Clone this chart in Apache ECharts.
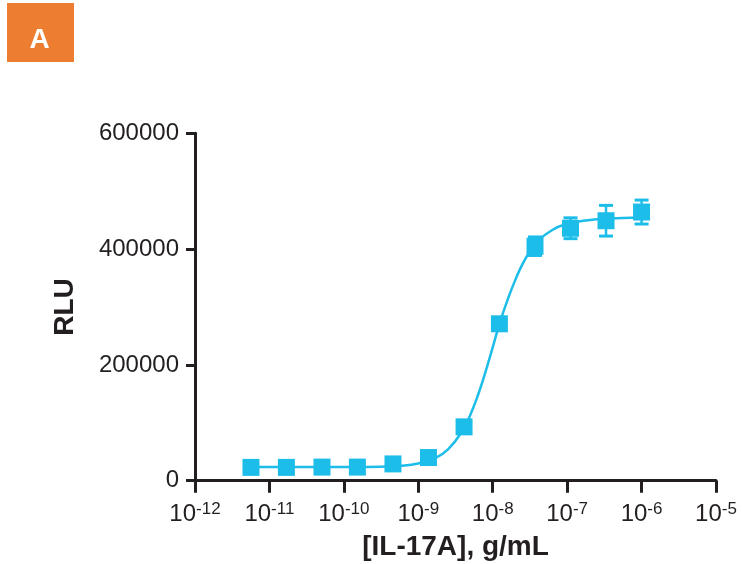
<!DOCTYPE html>
<html>
<head>
<meta charset="utf-8">
<script src="https://cdn.jsdelivr.net/npm/echarts@6/dist/echarts.min.js"></script>
<style>
html,body{margin:0;padding:0;background:#fff;}
#chart{width:742px;height:564px;}
</style>
</head>
<body>
<div id="chart"></div>
<script>
// concentrations (g/mL), measured RLU and error (SD)
const conc = [5.65e-12, 1.69e-11, 5.08e-11, 1.52e-10, 4.57e-10, 1.37e-9, 4.12e-9, 1.23e-8, 3.70e-8, 1.11e-7, 3.33e-7, 1.0e-6];
const rlu = [23000, 23000, 23500, 23500, 29000, 40000, 93000, 271000, 405000, 436000, 449000, 464000];
const rluErr = [1500, 1500, 1500, 1500, 2000, 2500, 3000, 4000, 16000, 18000, 26500, 20700];
// fitted curve
const curveConc = [5.65e-12, 3.16e-11, 1e-10, 3.16e-10, 5.62e-10, 1e-9, 1.58e-9, 2.51e-9, 3.98e-9, 5.01e-9, 6.31e-9, 7.94e-9, 1e-8, 1.26e-8, 1.58e-8, 2e-8, 2.51e-8, 3.16e-8, 3.98e-8, 6.31e-8, 1e-7, 1.78e-7, 3.16e-7, 1e-6];
const curveRlu = [23500, 23500, 23600, 24300, 25700, 29700, 37400, 54200, 87900, 114000, 147200, 186700, 230400, 274700, 312000, 346000, 374000, 396000, 413000, 433000, 443500, 449500, 452500, 454500];
const xTickExponents = [-12, -11, -10, -9, -8, -7, -6, -5];
const yTicks = [0, 200000, 400000, 600000];

const BLUE = '#1DBDE9';
const INK = '#231F20';
const FONT = '"Liberation Sans", Arial, sans-serif';

const chart = echarts.init(document.getElementById('chart'), null, {renderer: 'canvas'});

const option = {
  backgroundColor: '#fff',
  animation: false,
  graphic: [
    {type: 'rect', x: 7, y: 3, shape: {x: 0, y: 0, width: 67, height: 59}, style: {fill: '#ED7D31'}, z: 10},
    {type: 'text', x: 39.5, y: 40, style: {text: 'A', fill: '#ffffff', font: 'bold 28px ' + FONT, align: 'center', verticalAlign: 'middle'}, z: 11}
  ],
  grid: {left: 195, right: 26, top: 133.3, bottom: 83.3, containLabel: false, outerBoundsMode: 'none'},
  xAxis: {
    type: 'log',
    logBase: 10,
    min: Math.pow(10, xTickExponents[0]),
    max: Math.pow(10, xTickExponents[xTickExponents.length - 1]),
    splitNumber: 7,
    name: '[IL-17A], g/mL',
    nameLocation: 'middle',
    nameGap: 50,
    nameTextStyle: {fontFamily: FONT, fontWeight: 'bold', fontSize: 28, color: INK},
    axisLine: {show: true, onZero: false, lineStyle: {color: INK, width: 3}},
    axisTick: {show: true, length: 12, lineStyle: {color: INK, width: 3}},
    minorTick: {show: false},
    splitLine: {show: false},
    axisLabel: {
      margin: 21,
      formatter: function (v) {
        const e = Math.round(Math.log10(v));
        return '{b|10}{s|' + e + '}';
      },
      rich: {
        b: {fontFamily: FONT, fontSize: 24, lineHeight: 26, color: INK},
        s: {fontFamily: FONT, fontSize: 17, lineHeight: 26, color: INK, padding: [0, 0, 11, 0]}
      }
    }
  },
  yAxis: {
    type: 'value',
    min: yTicks[0],
    max: yTicks[yTicks.length - 1],
    interval: yTicks[1] - yTicks[0],
    name: 'RLU',
    nameLocation: 'middle',
    nameGap: 116,
    nameTextStyle: {fontFamily: FONT, fontWeight: 'bold', fontSize: 28, color: INK},
    axisLine: {show: true, lineStyle: {color: INK, width: 3}},
    axisTick: {show: true, length: 9, lineStyle: {color: INK, width: 3}},
    splitLine: {show: false},
    axisLabel: {margin: 16, fontFamily: FONT, fontSize: 24, color: INK, formatter: function (v) { return String(v); }}
  },
  series: [
    {
      type: 'line',
      data: curveConc.map((c, i) => [c, curveRlu[i]]),
      smooth: true,
      showSymbol: false,
      symbol: 'none',
      lineStyle: {color: BLUE, width: 2.5},
      z: 2
    },
    {
      type: 'custom',
      data: conc.map((c, i) => [c, rlu[i], rluErr[i]]),
      renderItem: function (params, api) {
        const x = api.value(0), y = api.value(1), e = api.value(2);
        const top = api.coord([x, y + e]);
        const bot = api.coord([x, y - e]);
        const hw = 7;
        const st = {stroke: BLUE, lineWidth: 2.5};
        return {
          type: 'group',
          children: [
            {type: 'line', shape: {x1: top[0], y1: top[1], x2: bot[0], y2: bot[1]}, style: st},
            {type: 'line', shape: {x1: top[0] - hw, y1: top[1], x2: top[0] + hw, y2: top[1]}, style: {stroke: BLUE, lineWidth: 3}},
            {type: 'line', shape: {x1: bot[0] - hw, y1: bot[1], x2: bot[0] + hw, y2: bot[1]}, style: {stroke: BLUE, lineWidth: 3}}
          ]
        };
      },
      z: 3
    },
    {
      type: 'scatter',
      data: conc.map((c, i) => [c, rlu[i]]),
      symbol: 'rect',
      symbolSize: 17,
      itemStyle: {color: BLUE, opacity: 1},
      z: 4
    }
  ]
};
chart.setOption(option);
</script>
</body>
</html>
